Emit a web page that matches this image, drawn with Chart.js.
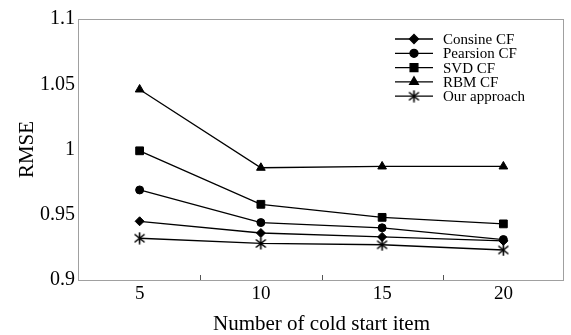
<!DOCTYPE html>
<html>
<head>
<meta charset="utf-8">
<script src="https://cdn.jsdelivr.net/npm/chart.js@4.4.0/dist/chart.umd.min.js"></script>
<style>
  html, body { margin: 0; padding: 0; background: #fff; }
  #wrap { width: 571px; height: 335px; }
</style>
</head>
<body>
<div id="wrap"><canvas id="myChart" width="571" height="335"></canvas></div>
<script>
const categories = ['5', '10', '15', '20'];
const seriesNames = ['Consine CF', 'Pearsion CF', 'SVD CF', 'RBM CF', 'Our approach'];
const consine = [0.945, 0.936, 0.933, 0.930];
const pearsion = [0.969, 0.944, 0.940, 0.931];
const svd = [0.999, 0.958, 0.948, 0.943];
const rbm = [1.046, 0.986, 0.987, 0.987];
const ours = [0.932, 0.928, 0.927, 0.923];
const yTicks = [0.9, 0.95, 1, 1.05, 1.1];
const yTickLabels = ['0.9', '0.95', '1', '1.05', '1.1'];

const serif = "'Liberation Serif', 'Times New Roman', serif";

// asterisk marker (x with a vertical bar)
const star = document.createElement('canvas');
star.width = 13; star.height = 13;
(function () {
  const c = star.getContext('2d');
  c.strokeStyle = '#000';
  c.lineWidth = 1.6;
  c.beginPath();
  c.moveTo(6.5, 0.5); c.lineTo(6.5, 12.5);
  c.moveTo(1.5, 2.5); c.lineTo(11.5, 10.5);
  c.moveTo(11.5, 2.5); c.lineTo(1.5, 10.5);
  c.stroke();
})();

function ds(label, data, style, r) {
  return {
    label: label,
    data: data,
    borderColor: '#000',
    backgroundColor: '#000',
    borderWidth: 1.3,
    pointStyle: style,
    pointRadius: r,
    pointHoverRadius: r,
    pointBorderWidth: 1,
    tension: 0
  };
}

const frame = {
  id: 'frame',
  afterDraw(chart) {
    const { ctx, chartArea: a } = chart;
    const x = chart.scales.x;
    ctx.save();
    ctx.strokeStyle = '#a0a0a0';
    ctx.lineWidth = 1;
    ctx.strokeRect(a.left - 0.5, a.top + 0.5, a.right - a.left, a.bottom - a.top);
    // inward ticks between categories
    ctx.strokeStyle = '#555';
    ctx.beginPath();
    for (let i = 0; i < categories.length - 1; i++) {
      const px = Math.round((x.getPixelForTick(i) + x.getPixelForTick(i + 1)) / 2) + 0.5;
      ctx.moveTo(px, a.bottom);
      ctx.lineTo(px, a.bottom - 5);
    }
    ctx.stroke();
    ctx.restore();
  }
};

const legendBox = {
  id: 'legendBox',
  afterDraw(chart) {
    const ctx = chart.ctx;
    ctx.save();
    chart.data.datasets.forEach(function (d, i) {
      const y = 39 + i * 14.3;
      ctx.strokeStyle = '#000';
      ctx.lineWidth = 1.3;
      ctx.beginPath();
      ctx.moveTo(395, y);
      ctx.lineTo(433, y);
      ctx.stroke();
      ctx.fillStyle = '#000';
      Chart.helpers.drawPoint(ctx, { pointStyle: d.pointStyle, radius: d.pointRadius, rotation: 0, borderWidth: 1 }, 414, y);
      ctx.fillStyle = '#000';
      ctx.font = "15px " + serif;
      ctx.textBaseline = 'middle';
      ctx.textAlign = 'left';
      ctx.fillText(d.label, 443, y + 1);
    });
    ctx.restore();
  }
};

new Chart(document.getElementById('myChart'), {
  type: 'line',
  data: {
    labels: categories,
    datasets: [
      ds(seriesNames[0], consine, 'rectRot', 4.5),
      ds(seriesNames[1], pearsion, 'circle', 4),
      ds(seriesNames[2], svd, 'rect', 5.5),
      ds(seriesNames[3], rbm, 'triangle', 5),
      ds(seriesNames[4], ours, star, 6)
    ]
  },
  options: {
    responsive: false,
    animation: false,
    layout: { padding: { top: 19, right: 1, left: 0, bottom: 0 } },
    plugins: { legend: { display: false }, tooltip: { enabled: false } },
    scales: {
      x: {
        type: 'category',
        offset: true,
        grid: { display: false, drawTicks: false },
        border: { display: false },
        ticks: { color: '#000', font: { family: serif, size: 19 }, padding: 3 },
        title: { display: true, text: 'Number of cold start item', color: '#000',
                 font: { family: serif, size: 21, lineHeight: 1 }, padding: { top: 0, bottom: 0 } },
        afterFit(s) { s.height = 55; }
      },
      y: {
        min: 0.9,
        max: 1.1,
        grid: { display: false, drawTicks: false },
        border: { display: false },
        afterBuildTicks(s) { s.ticks = yTicks.map(v => ({ value: v })); },
        ticks: {
          color: '#000',
          font: { family: serif, size: 20 },
          padding: 4,
          callback: (v) => yTickLabels[yTicks.findIndex(t => Math.abs(t - v) < 1e-6)]
        },
        title: { display: true, text: 'RMSE', color: '#000',
                 font: { family: serif, size: 21, lineHeight: 1 }, padding: { top: 17, bottom: 0 } },
        afterFit(s) { s.width = 79; }
      }
    }
  },
  plugins: [frame, legendBox]
});
</script>
</body>
</html>
